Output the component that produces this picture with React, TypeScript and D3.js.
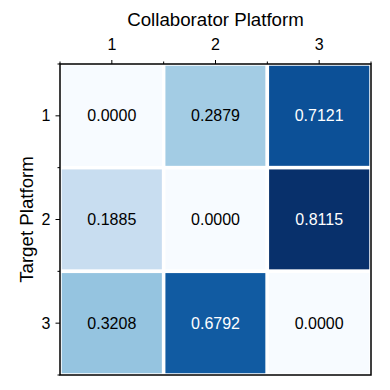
import React from 'react';
import * as d3 from 'd3';

const targets = ['1', '2', '3'];
const collaborators = ['1', '2', '3'];
const values = [
  [0.0, 0.2879, 0.7121],
  [0.1885, 0.0, 0.8115],
  [0.3208, 0.6792, 0.0],
];

const W = 390;
const H = 390;
const margin = { top: 64, right: 19, bottom: 15, left: 60 };
const font = 'Liberation Sans, Arial, sans-serif';

const App = () => {
  const iw = W - margin.left - margin.right;
  const ih = H - margin.top - margin.bottom;

  const x = d3.scaleBand().domain(collaborators).range([0, iw]);
  const y = d3.scaleBand().domain(targets).range([0, ih]);
  const vmax = d3.max(values.flat()) as number;
  const color = d3.scaleSequential(d3.interpolateBlues).domain([0, vmax]);

  const cells = values.flatMap((row, i) =>
    row.map((v, j) => ({ row: targets[i], col: collaborators[j], v }))
  );

  // minor ticks sit on the cell edges
  const edges = d3.range(collaborators.length + 1).map(k => k * x.bandwidth());

  return (
    <div>
      <svg width={W} height={H} style={{ position: 'absolute', left: 0, top: 0 }}>
        <rect width={W} height={H} fill="#fff" />
        <g transform={`translate(${margin.left},${margin.top})`}>
          {cells.map(c => (
            <rect
              key={c.row + c.col}
              x={x(c.col)}
              y={y(c.row)}
              width={x.bandwidth()}
              height={y.bandwidth()}
              fill={color(c.v)}
              stroke="#fff"
              strokeWidth={3.5}
            />
          ))}
          {cells.map(c => (
            <text
              key={'t' + c.row + c.col}
              x={(x(c.col) as number) + x.bandwidth() / 2}
              y={(y(c.row) as number) + y.bandwidth() / 2}
              textAnchor="middle"
              dominantBaseline="central"
              fontFamily={font}
              fontSize={16}
              fill={c.v / vmax > 0.6 ? '#fff' : '#000'}
            >
              {c.v.toFixed(4)}
            </text>
          ))}
          <rect width={iw} height={ih} fill="none" stroke="#000" strokeWidth={1.5} />

          {/* top axis */}
          {edges.map(e => (
            <line key={'mx' + e} x1={e} x2={e} y1={0} y2={-2.5} stroke="#000" strokeWidth={1} />
          ))}
          {collaborators.map(c => {
            const cx = (x(c) as number) + x.bandwidth() / 2;
            return (
              <g key={'xt' + c}>
                <line x1={cx} x2={cx} y1={0} y2={-4} stroke="#000" strokeWidth={1} />
                <text x={cx} y={-14} textAnchor="middle" fontFamily={font} fontSize={16}>{c}</text>
              </g>
            );
          })}
          <text x={iw / 2} y={-38} textAnchor="middle" fontFamily={font} fontSize={18.7}>Collaborator Platform</text>

          {/* left axis */}
          {edges.map(e => (
            <line key={'my' + e} x1={0} x2={-2.5} y1={e} y2={e} stroke="#000" strokeWidth={1} />
          ))}
          {targets.map(t => {
            const cy = (y(t) as number) + y.bandwidth() / 2;
            return (
              <g key={'yt' + t}>
                <line x1={0} x2={-4.5} y1={cy} y2={cy} stroke="#000" strokeWidth={1} />
                <text x={-9.5} y={cy} textAnchor="end" dominantBaseline="central" fontFamily={font} fontSize={16}>{t}</text>
              </g>
            );
          })}
          <text
            transform={`translate(${-27},${ih / 2}) rotate(-90)`}
            textAnchor="middle"
            fontFamily={font}
            fontSize={18.7}
          >
            Target Platform
          </text>
        </g>
      </svg>
    </div>
  );
};

export default App;
